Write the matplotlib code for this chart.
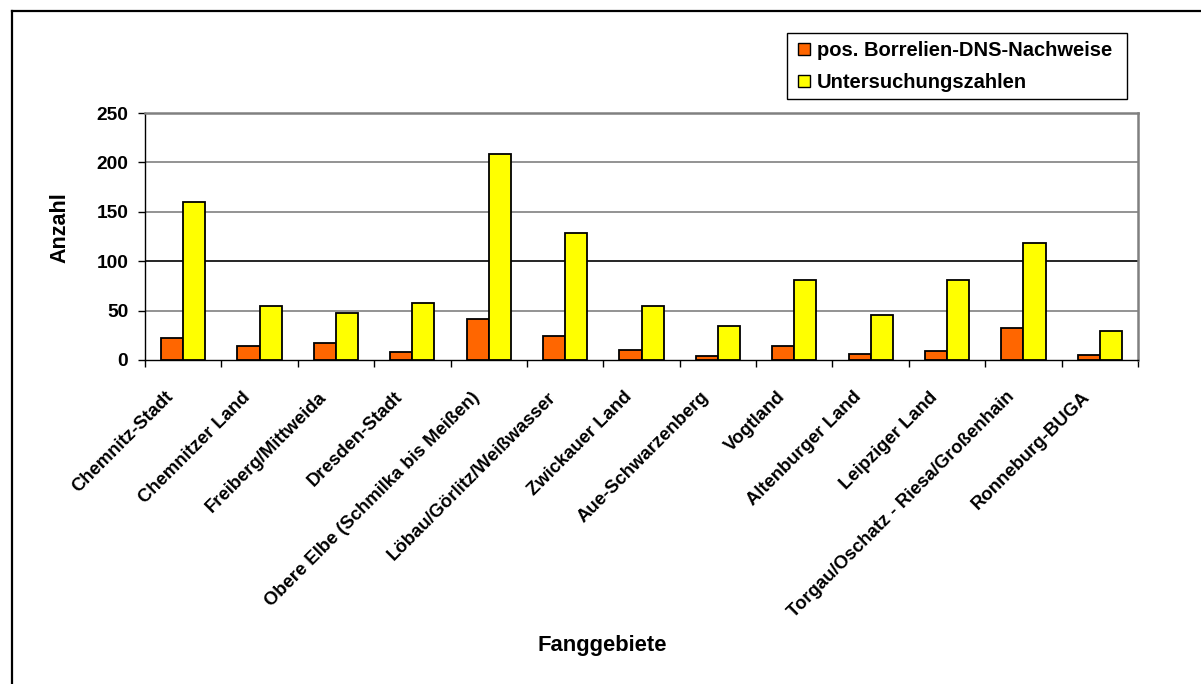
import matplotlib
matplotlib.use("Agg")
import matplotlib.pyplot as plt
import matplotlib.transforms as mtransforms
from matplotlib.lines import Line2D
from matplotlib.patches import Patch, Rectangle
import numpy as np

plt.rcParams['font.family'] = ['Liberation Sans', 'DejaVu Sans']
plt.rcParams['font.weight'] = 'bold'

regions = [
    "Chemnitz-Stadt", "Chemnitzer Land", "Freiberg/Mittweida", "Dresden-Stadt",
    "Obere Elbe (Schmilka bis Meißen)", "Löbau/Görlitz/Weißwasser", "Zwickauer Land",
    "Aue-Schwarzenberg", "Vogtland", "Altenburger Land", "Leipziger Land",
    "Torgau/Oschatz - Riesa/Großenhain", "Ronneburg-BUGA",
]
positives = [22, 14, 17, 8, 42, 24, 10, 4, 14, 6, 9, 32, 5]
examined = [160, 55, 48, 58, 209, 129, 55, 34, 81, 46, 81, 118, 29]
series_names = ["pos. Borrelien-DNS-Nachweise", "Untersuchungszahlen"]
y_ticks = [0, 50, 100, 150, 200, 250]

W, H = 1201, 684
fig = plt.figure(figsize=(W / 100, H / 100), dpi=100)
fig.patch.set_facecolor("white")

# outer chart frame (only left and top edges fall inside the canvas)
fig.add_artist(Line2D([12 / W, 12 / W], [0, 1 - 11 / H], color="black", lw=1.6,
                      transform=fig.transFigure))
fig.add_artist(Line2D([12 / W, 1], [1 - 11 / H, 1 - 11 / H], color="black", lw=1.6,
                      transform=fig.transFigure))

left, right, top, bottom = 145, 1138, 113, 360
ax = fig.add_axes([left / W, 1 - bottom / H, (right - left) / W, (bottom - top) / H])

x = np.arange(len(regions))
bw = 0.29
ax.bar(x - bw / 2, positives, bw, color="#FF6600", edgecolor="black", linewidth=1.3, zorder=3)
ax.bar(x + bw / 2, examined, bw, color="#FFFF00", edgecolor="black", linewidth=1.3, zorder=3)

ax.set_xlim(-0.5, len(regions) - 0.5)
ax.set_ylim(0, 250)

for v in y_ticks[1:]:
    ax.axhline(v, color="black" if v == 100 else "#808080", lw=1.2, zorder=1)

for s in ("top", "right"):
    ax.spines[s].set_color("#808080")
    ax.spines[s].set_linewidth(1.8)
for s in ("left", "bottom"):
    ax.spines[s].set_color("black")
    ax.spines[s].set_linewidth(1.0)

ax.set_yticks(y_ticks)
ax.set_yticklabels([str(v) for v in y_ticks], fontsize=13.8, fontweight="bold")
ax.tick_params(axis="y", length=5, width=1, direction="out", pad=7)

ax.set_xticks(x)
ax.set_xticks(np.arange(-0.5, len(regions)), minor=True)
ax.tick_params(axis="x", which="major", length=0, pad=20.5)
ax.tick_params(axis="x", which="minor", length=5, width=1, direction="out")
labels = ax.set_xticklabels(regions, rotation=45, ha="right", fontsize=13.3, fontweight="bold")
offset = mtransforms.ScaledTranslation(-6 / 100, 0, fig.dpi_scale_trans)
for lab in labels:
    lab.set_transform(lab.get_transform() + offset)

fig.text(60 / W, 1 - 228 / H, "Anzahl", rotation=90, ha="center", va="center",
         fontsize=15.5, fontweight="bold")
fig.text(602 / W, 1 - 645 / H, "Fanggebiete", ha="center", va="center",
         fontsize=15.8, fontweight="bold")

# legend: frame drawn as its own rectangle, entries placed inside it
lx0, ly0, lx1, ly1 = 787, 33, 1127, 99
fig.add_artist(Rectangle((lx0 / W, 1 - ly1 / H), (lx1 - lx0) / W, (ly1 - ly0) / H,
                         transform=fig.transFigure, facecolor="white",
                         edgecolor="black", linewidth=1.0, zorder=4))
handles = [Patch(facecolor="#FF6600", edgecolor="black", linewidth=1.0),
           Patch(facecolor="#FFFF00", edgecolor="black", linewidth=1.0)]
leg = fig.legend(handles, series_names, loc="upper left",
                 bbox_to_anchor=(794 / W, 1 - 37 / H),
                 prop={"weight": "bold", "size": 14.5},
                 frameon=False,
                 handlelength=0.6, handleheight=0.6, handletextpad=0.35,
                 labelspacing=0.65, borderpad=0.2, borderaxespad=0)
leg.set_zorder(5)

fig.savefig("out.png", dpi=100, facecolor="white")
